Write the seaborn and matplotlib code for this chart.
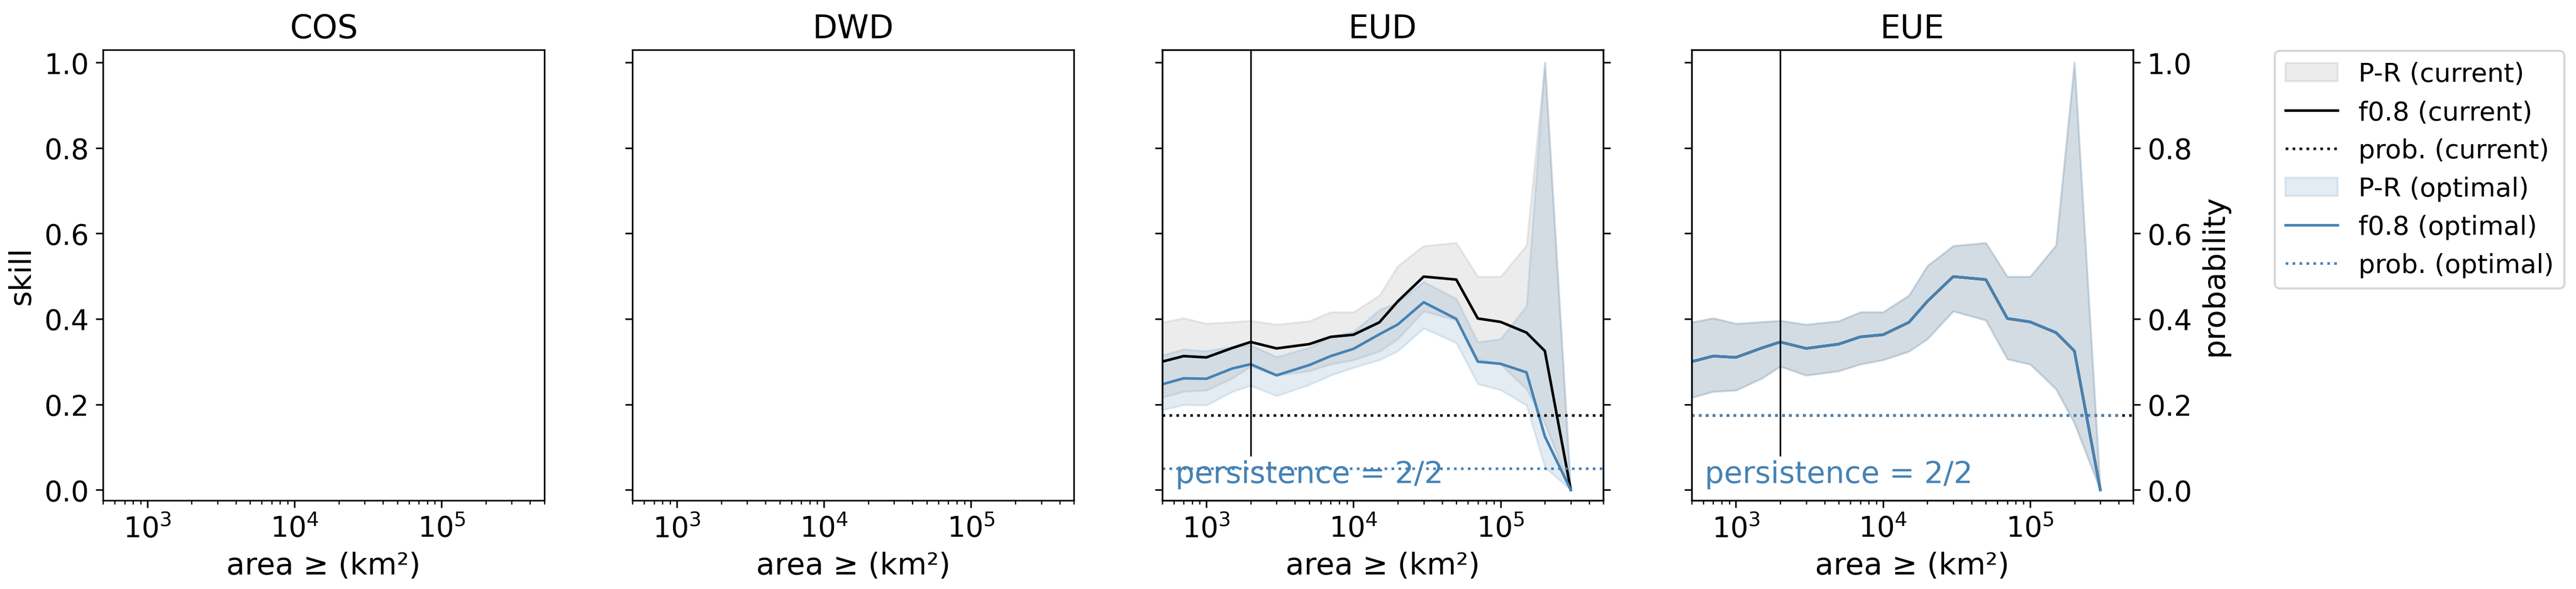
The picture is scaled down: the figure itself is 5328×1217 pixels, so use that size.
import numpy as np
import pandas as pd
import matplotlib
matplotlib.use("Agg")
import matplotlib.pyplot as plt
import seaborn as sns

# area thresholds (km2)
area = [500, 700, 1000, 1500, 2000, 3000, 5000, 7000, 10000, 15000, 20000,
        30000, 50000, 70000, 100000, 150000, 200000, 300000]

# EUD, current
f08_cur = [0.300, 0.313, 0.310, 0.332, 0.346, 0.331, 0.341, 0.358, 0.363, 0.392,
           0.441, 0.499, 0.492, 0.401, 0.393, 0.368, 0.325, 0.0]
pr_cur_hi = [0.392, 0.402, 0.389, 0.393, 0.396, 0.387, 0.395, 0.416, 0.416, 0.455,
             0.524, 0.571, 0.578, 0.499, 0.499, 0.572, 1.0, 0.0]
pr_cur_lo = [0.216, 0.230, 0.233, 0.261, 0.289, 0.268, 0.278, 0.294, 0.304, 0.324,
             0.353, 0.418, 0.397, 0.306, 0.294, 0.236, 0.156, 0.0]
prob_cur = 0.175

# EUD, optimal
f08_opt = [0.247, 0.261, 0.260, 0.284, 0.294, 0.268, 0.292, 0.313, 0.330, 0.364,
           0.387, 0.439, 0.400, 0.300, 0.295, 0.275, 0.125, 0.0]
pr_opt_hi = [0.315, 0.329, 0.325, 0.335, 0.339, 0.311, 0.333, 0.359, 0.370, 0.421,
             0.439, 0.487, 0.447, 0.346, 0.353, 0.430, 1.0, 0.0]
pr_opt_lo = [0.187, 0.199, 0.198, 0.230, 0.244, 0.220, 0.246, 0.268, 0.286, 0.304,
             0.325, 0.378, 0.344, 0.248, 0.234, 0.198, 0.053, 0.0]
prob_opt_eud = 0.05

panels = ["COS", "DWD", "EUD", "EUE"]
persist_text = "persistence = 2/2"
vline_area = 2000

blue = "#4682b4"
plt.rcParams["font.family"] = ["DejaVu Sans"]

fig, axes = plt.subplots(1, 4, figsize=(17.76, 4.06), dpi=300, sharey=True)
fig.subplots_adjust(left=0.04, right=0.828, top=0.915, bottom=0.15, wspace=0.2)

data = {
    "EUD": dict(cur=(f08_cur, pr_cur_lo, pr_cur_hi), opt=(f08_opt, pr_opt_lo, pr_opt_hi),
                pcur=prob_cur, popt=prob_opt_eud),
    "EUE": dict(cur=(f08_cur, pr_cur_lo, pr_cur_hi), opt=(f08_cur, pr_cur_lo, pr_cur_hi),
                pcur=prob_cur, popt=prob_cur),
}

for ax, name in zip(axes, panels):
    ax.set_xscale("log")
    ax.set_xlim(500, 500000)
    ax.set_ylim(-0.025, 1.03)
    ax.set_yticks([0, 0.2, 0.4, 0.6, 0.8, 1.0])
    ax.set_title(name, fontsize=16)
    ax.set_xlabel("area ≥ (km²)", fontsize=15)
    ax.tick_params(labelsize=14)
    if name not in data:
        continue
    d = data[name]
    ax2 = ax.twinx()
    ax2.set_ylim(-0.025, 1.03)
    ax2.set_yticks([0, 0.2, 0.4, 0.6, 0.8, 1.0])
    ax2.tick_params(labelsize=14)
    if name == "EUE":
        ax2.set_ylabel("probability", fontsize=15)
    else:
        ax2.set_yticklabels([])
    f, lo, hi = d["cur"]
    ax.fill_between(area, lo, hi, color="gray", alpha=0.15, label="P-R (current)")
    sns.lineplot(x=area, y=f, ax=ax, color="black", lw=1.3, label="f0.8 (current)")
    ax2.axhline(d["pcur"], color="black", ls=":", lw=1.3, label="prob. (current)")
    f, lo, hi = d["opt"]
    ax.fill_between(area, lo, hi, color=blue, alpha=0.15, label="P-R (optimal)")
    sns.lineplot(x=area, y=f, ax=ax, color=blue, lw=1.3, label="f0.8 (optimal)")
    ax2.axhline(d["popt"], color=blue, ls=":", lw=1.3, xmax=0.97 if name == "EUE" else 1,
                label="prob. (optimal)")
    ax.axvline(vline_area, ymin=0.1, ymax=1, color="black", lw=0.8)
    ax.text(0.03, 0.04, persist_text, transform=ax.transAxes, color=blue, fontsize=15)
    ax.legend().remove()
    if name == "EUD":
        h1, l1 = ax.get_legend_handles_labels()
        h2, l2 = ax2.get_legend_handles_labels()
        order = {"P-R (current)": 0, "f0.8 (current)": 1, "prob. (current)": 2,
                 "P-R (optimal)": 3, "f0.8 (optimal)": 4, "prob. (optimal)": 5}
        pairs = sorted(zip(h1 + h2, l1 + l2), key=lambda p: order[p[1]])
        fig.legend([p[0] for p in pairs], [p[1] for p in pairs], loc="upper left",
                   bbox_to_anchor=(0.878, 0.935), fontsize=13)

axes[0].set_ylabel("skill", fontsize=15)
fig.savefig("out.png", dpi=300)
